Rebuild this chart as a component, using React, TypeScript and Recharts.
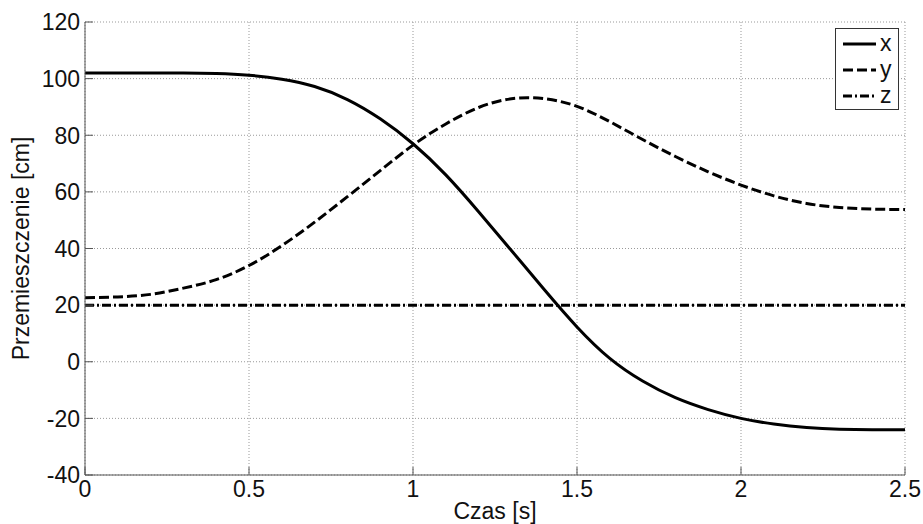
import React from 'react';
import { LineChart, Line, XAxis, YAxis, CartesianGrid, Legend } from 'recharts';

// time [s]
const czas = [0, 0.1, 0.2, 0.3, 0.4, 0.5, 0.6, 0.7, 0.8, 0.9, 1.0, 1.1, 1.2, 1.3, 1.4, 1.5, 1.6, 1.7, 1.8, 1.9, 2.0, 2.1, 2.2, 2.3, 2.4, 2.5];
const xVals = [102, 102, 102, 102, 101.8, 101.2, 99.8, 97.2, 92.6, 85.8, 77, 66, 53, 39.3, 25.5, 12.3, 1.2, -6.8, -12.7, -16.9, -20, -22, -23.2, -23.8, -24, -24];
const yVals = [22.6, 22.9, 23.8, 26, 29, 34, 41, 49.3, 58.3, 67.5, 76.5, 84, 89.8, 92.9, 92.9, 90.2, 84.8, 78.5, 72.5, 67.1, 62.4, 58.6, 55.9, 54.5, 53.9, 53.8];
const zVals = [20, 20, 20, 20, 20, 20, 20, 20, 20, 20, 20, 20, 20, 20, 20, 20, 20, 20, 20, 20, 20, 20, 20, 20, 20, 20];

const xTicks = [0, 0.5, 1, 1.5, 2, 2.5];
const yTicks = [-40, -20, 0, 20, 40, 60, 80, 100, 120];

const series = [
    { key: 'x', dash: undefined as string | undefined },
    { key: 'y', dash: '10 4' },
    { key: 'z', dash: '9 3 2 3' },
];

const data = czas.map((t, i) => ({ t, x: xVals[i], y: yVals[i], z: zVals[i] }));

const FONT = 'Arial, "Liberation Sans", Helvetica, sans-serif';
const AXIS = '#555';
const TXT = '#111';
const TICK = 8;
const FS = 23;

function BottomTick(props: any) {
    const { x, y, payload } = props;
    const ay = y - 6;
    return (
        <g>
            <line x1={x} x2={x} y1={ay} y2={ay - TICK} stroke={AXIS} />
            <text x={x} y={y} dy="0.71em" textAnchor="middle" fontSize={FS} fontFamily={FONT} fill={TXT}>
                {payload.value}
            </text>
        </g>
    );
}

function TopTick(props: any) {
    const { x, y } = props;
    return <line x1={x} x2={x} y1={y} y2={y + TICK} stroke={AXIS} />;
}

function LeftTick(props: any) {
    const { x, y, payload } = props;
    const ax = x + 5;
    return (
        <g>
            <line x1={ax} x2={ax + TICK} y1={y} y2={y} stroke={AXIS} />
            <text x={x} y={y} dy="0.36em" textAnchor="end" fontSize={FS} fontFamily={FONT} fill={TXT}>
                {payload.value}
            </text>
        </g>
    );
}

function RightTick(props: any) {
    const { x, y } = props;
    return <line x1={x} x2={x - TICK} y1={y} y2={y} stroke={AXIS} />;
}

function LegendBox() {
    return (
        <div style={{ border: '1px solid #333', background: '#fff', width: 62, padding: '1px 0' }}>
            {series.map(s => (
                <div key={s.key} style={{ display: 'flex', alignItems: 'center', height: 26 }}>
                    <svg width={44} height={26}>
                        <line x1={7} x2={40} y1={14} y2={14} stroke="#000" strokeWidth={3} strokeDasharray={s.dash} />
                    </svg>
                    <span style={{ fontFamily: FONT, fontSize: FS, color: TXT, lineHeight: '26px' }}>{s.key}</span>
                </div>
            ))}
        </div>
    );
}

export default function App() {
    return (
        <div style={{ position: 'absolute', left: 0, top: 0, width: 923, height: 524, background: '#fff' }}>
            <LineChart width={923} height={524} data={data} margin={{ top: 22, right: 18, bottom: 0, left: 0 }}>
                <CartesianGrid stroke="#999" strokeDasharray="1 2" />
                <XAxis
                    dataKey="t"
                    type="number"
                    domain={[0, 2.5]}
                    ticks={xTicks}
                    interval={0}
                    height={49}
                    tickSize={0}
                    tickMargin={6}
                    stroke={AXIS}
                    tick={<BottomTick />}
                    label={{ value: 'Czas [s]', position: 'insideBottom', offset: 5, fontSize: FS, fontFamily: FONT, fill: TXT }}
                />
                <XAxis
                    xAxisId="top"
                    orientation="top"
                    dataKey="t"
                    type="number"
                    domain={[0, 2.5]}
                    ticks={xTicks}
                    interval={0}
                    height={0}
                    tickSize={0}
                    tickMargin={0}
                    stroke={AXIS}
                    tick={<TopTick />}
                />
                <YAxis
                    type="number"
                    domain={[-40, 120]}
                    ticks={yTicks}
                    interval={0}
                    width={85}
                    tickSize={0}
                    tickMargin={5}
                    stroke={AXIS}
                    tick={<LeftTick />}
                    label={{ value: 'Przemieszczenie [cm]', angle: -90, position: 'insideLeft', offset: 21, fontSize: FS, fontFamily: FONT, fill: TXT, style: { textAnchor: 'middle' } }}
                />
                <YAxis
                    yAxisId="right"
                    orientation="right"
                    type="number"
                    domain={[-40, 120]}
                    ticks={yTicks}
                    interval={0}
                    width={0}
                    tickSize={0}
                    tickMargin={0}
                    stroke={AXIS}
                    tick={<RightTick />}
                />
                {series.map(s => (
                    <Line
                        key={s.key}
                        type="natural"
                        dataKey={s.key}
                        stroke="#000"
                        strokeWidth={3}
                        strokeDasharray={s.dash}
                        dot={false}
                        activeDot={false}
                        isAnimationActive={false}
                    />
                ))}
                <Legend
                    layout="vertical"
                    align="center"
                    verticalAlign="middle"
                    content={() => <LegendBox />}
                    wrapperStyle={{ top: 28, left: 835, width: 'auto' }}
                />
            </LineChart>
        </div>
    );
}
